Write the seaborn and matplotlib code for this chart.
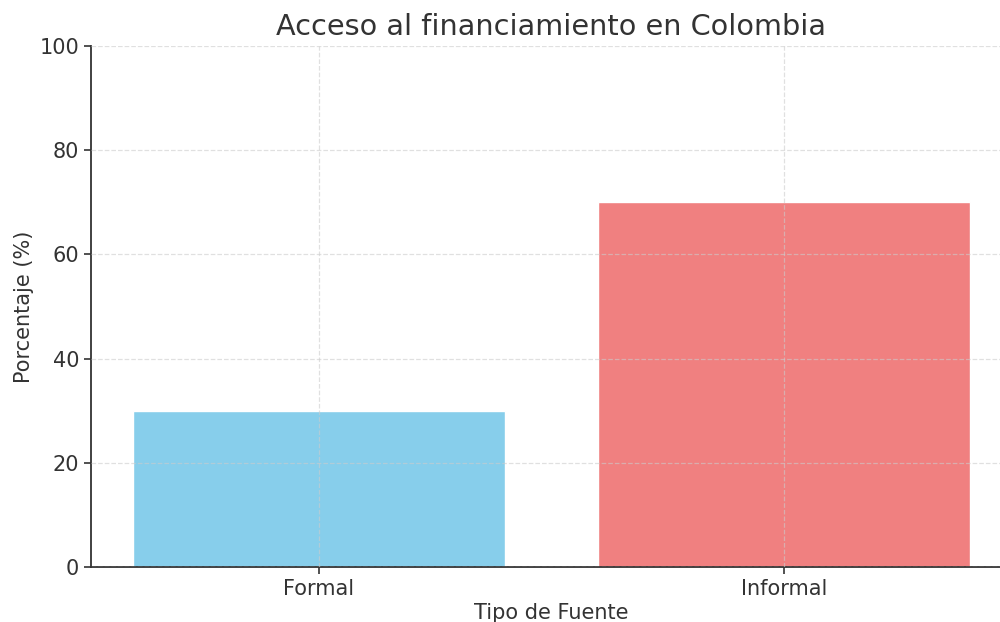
import pandas as pd
import matplotlib
matplotlib.use("Agg")
import matplotlib.pyplot as plt
import seaborn as sns

# data
tipos = ["Formal", "Informal"]
porcentajes = [30, 70]
colores = ["skyblue", "lightcoral"]

df = pd.DataFrame({"Tipo de Fuente": tipos, "Porcentaje": porcentajes})

sns.set_style("ticks")
plt.rcParams["font.family"] = ["DejaVu Sans"]
plt.rcParams["text.color"] = "#333333"
plt.rcParams["axes.labelcolor"] = "#333333"
plt.rcParams["xtick.color"] = "#333333"
plt.rcParams["ytick.color"] = "#333333"

fig = plt.figure(figsize=(10, 6.22), dpi=100)
ax = fig.add_axes([0.091, 0.0884, 0.921, 0.8376])

sns.barplot(
    data=df, x="Tipo de Fuente", y="Porcentaje",
    hue="Tipo de Fuente", palette=dict(zip(tipos, colores)),
    width=0.8, saturation=1, legend=False, ax=ax
)

ax.set_ylim(0, 100)
ax.set_xlim(-0.49, 1.49)
ax.set_title("Acceso al financiamiento en Colombia", fontsize=20.7, pad=8)
ax.set_xlabel("Tipo de Fuente", fontsize=15, labelpad=3)
ax.set_ylabel("Porcentaje (%)", fontsize=15)
ax.tick_params(labelsize=15, width=1.2, length=5)
ax.grid(True, linestyle="--", color="#cccccc", alpha=0.6, linewidth=0.9)
ax.set_axisbelow(False)
for s in ["top", "right"]:
    ax.spines[s].set_visible(False)
for s in ["left", "bottom"]:
    ax.spines[s].set_color("#333333")
    ax.spines[s].set_linewidth(1.3)

fig.savefig("out.png", dpi=100)
